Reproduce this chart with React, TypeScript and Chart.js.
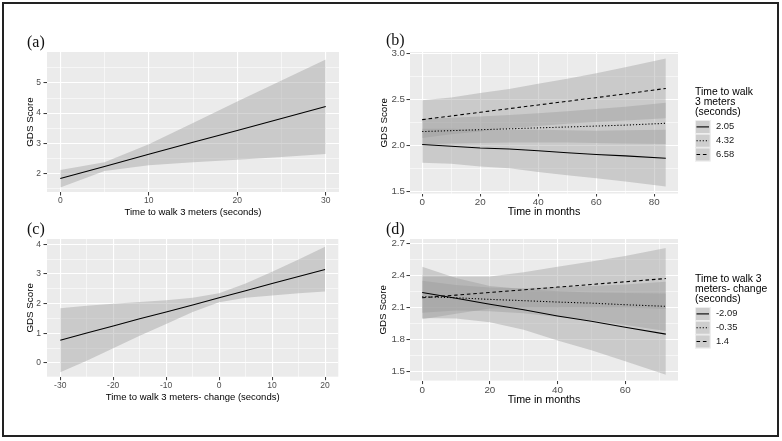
import React, { useEffect, useRef } from "react";
import { Chart, registerables } from "chart.js";
Chart.register(...registerables);

const SANS = '"Liberation Sans", Arial, Helvetica, sans-serif';
const SERIF = '"Liberation Serif", "Times New Roman", Times, serif';
const BAND_FILL = "rgba(153,153,153,0.4)";
const PANEL_BG = "#EBEBEB";
const SOLID: number[] = [];
const DOTTED = [1.2, 1.9];
const DASHED = [3.6, 2.8];

// ---------- panel (a): GDS vs time to walk 3 meters
const aTime = [0, 5, 10, 15, 20, 25, 30];
const aFit = [1.83, 2.23, 2.63, 3.03, 3.42, 3.82, 4.22];
const aUpper = [2.11, 2.37, 2.97, 3.67, 4.39, 5.08, 5.78];
const aLower = [1.53, 2.08, 2.27, 2.37, 2.45, 2.54, 2.64];
const aXTicks = [0, 10, 20, 30];
const aXMinor = [5, 15, 25];
const aYTicks = [2, 3, 4, 5];
const aYMinor = [1.5, 2.5, 3.5, 4.5, 5.5];

// ---------- panel (b): GDS over months by time to walk 3 meters
const bMonths = [0, 10, 20, 30, 40, 50, 60, 70, 84];
const bLegend = ["2.05", "4.32", "6.58"];
const bFit205 = [2.01, 1.99, 1.97, 1.96, 1.94, 1.92, 1.9, 1.885, 1.86];
const bUpper205 = [2.18, 2.18, 2.17, 2.17, 2.17, 2.165, 2.16, 2.165, 2.17];
const bLower205 = [1.81, 1.8, 1.77, 1.75, 1.71, 1.675, 1.64, 1.605, 1.55];
const bFit432 = [2.15, 2.16, 2.17, 2.18, 2.19, 2.2, 2.21, 2.22, 2.24];
const bUpper432 = [2.29, 2.3, 2.315, 2.33, 2.35, 2.37, 2.395, 2.42, 2.465];
const bLower432 = [2.01, 2.02, 2.025, 2.03, 2.03, 2.03, 2.025, 2.02, 2.015];
const bFit658 = [2.28, 2.32, 2.36, 2.4, 2.44, 2.48, 2.52, 2.56, 2.62];
const bUpper658 = [2.49, 2.52, 2.57, 2.615, 2.67, 2.725, 2.785, 2.85, 2.945];
const bLower658 = [2.08, 2.12, 2.15, 2.185, 2.21, 2.235, 2.255, 2.27, 2.295];
const bXTicks = [0, 20, 40, 60, 80];
const bXMinor = [10, 30, 50, 70];
const bYTicks = [1.5, 2.0, 2.5, 3.0];
const bYMinor = [1.75, 2.25, 2.75];

// ---------- panel (c): GDS vs change in time to walk 3 meters
const cChange = [-30, -25, -20, -15, -10, -5, 0, 5, 10, 15, 20];
const cFit = [0.77, 1.01, 1.25, 1.49, 1.72, 1.96, 2.2, 2.44, 2.68, 2.92, 3.15];
const cUpper = [1.85, 1.93, 2.0, 2.06, 2.12, 2.2, 2.35, 2.68, 3.08, 3.49, 3.92];
const cLower = [-0.31, 0.08, 0.5, 0.92, 1.32, 1.72, 2.05, 2.2, 2.28, 2.35, 2.41];
const cXTicks = [-30, -20, -10, 0, 10, 20];
const cXMinor = [-25, -15, -5, 5, 15];
const cYTicks = [0, 1, 2, 3, 4];
const cYMinor = [0.5, 1.5, 2.5, 3.5];

// ---------- panel (d): GDS over months by change in time to walk 3 meters
const dMonths = [0, 10, 20, 30, 40, 50, 60, 72];
const dLegend = ["-2.09", "-0.35", "1.4"];
const dFitM209 = [2.24, 2.186, 2.13, 2.077, 2.02, 1.97, 1.915, 1.85];
const dUpperM209 = [2.48, 2.376, 2.3, 2.27, 2.25, 2.24, 2.235, 2.23];
const dLowerM209 = [2.0, 1.996, 1.96, 1.89, 1.79, 1.7, 1.595, 1.47];
const dFitM035 = [2.2, 2.19, 2.175, 2.163, 2.15, 2.14, 2.125, 2.11];
const dUpperM035 = [2.35, 2.31, 2.285, 2.28, 2.29, 2.3, 2.315, 2.34];
const dLowerM035 = [2.05, 2.07, 2.065, 2.046, 2.01, 1.98, 1.935, 1.88];
const dFit14 = [2.19, 2.215, 2.24, 2.265, 2.29, 2.315, 2.34, 2.37];
const dUpper14 = [2.39, 2.39, 2.39, 2.43, 2.48, 2.53, 2.58, 2.655];
const dLower14 = [1.99, 2.04, 2.09, 2.1, 2.1, 2.1, 2.1, 2.085];
const dXTicks = [0, 20, 40, 60];
const dXMinor = [10, 30, 50, 70];
const dYTicks = [1.5, 1.8, 2.1, 2.4, 2.7];
const dYMinor = [1.65, 1.95, 2.25, 2.55];

type Series = { label: string; x: number[]; fit: number[]; upper: number[]; lower: number[]; dash: number[] };

const near = (arr: number[], v: number) => arr.some((a) => Math.abs(a - v) < 1e-9);

const panels: any[] = [
  {
    id: "a",
    canvas: { left: 12, top: 42, width: 338, height: 180 },
    area: { L: 47, T: 52, R: 339, B: 192 },
    x: { min: -1.5, max: 31.5, ticks: aXTicks, minor: aXMinor, dec: 0, title: "Time to walk 3 meters (seconds)", titleSize: 9.5, titlePad: 4.3, tickSize: 8.5, tickLen: 3.5, tickPad: 1 },
    y: { min: 1.38, max: 6.03, ticks: aYTicks, minor: aYMinor, dec: 0, title: "GDS Score", titleSize: 9.8, titlePad: 12.1, tickSize: 8.5, tickLen: 3.5, tickPad: 2.5 },
    series: [{ label: "fit", x: aTime, fit: aFit, upper: aUpper, lower: aLower, dash: SOLID }],
  },
  {
    id: "b",
    canvas: { left: 370, top: 42, width: 405, height: 180 },
    area: { L: 410, T: 52, R: 678, B: 193.5 },
    x: { min: -4.2, max: 88.2, ticks: bXTicks, minor: bXMinor, dec: 0, title: "Time in months", titleSize: 10.7, titlePad: 3.6, tickSize: 9.8, tickLen: 3, tickPad: 0.5 },
    y: { min: 1.475, max: 3.017, ticks: bYTicks, minor: bYMinor, dec: 1, title: "GDS Score", titleSize: 9.8, titlePad: 8.1, tickSize: 9.8, tickLen: 3.5, tickPad: 1.5 },
    series: [
      { label: bLegend[0], x: bMonths, fit: bFit205, upper: bUpper205, lower: bLower205, dash: SOLID },
      { label: bLegend[1], x: bMonths, fit: bFit432, upper: bUpper432, lower: bLower432, dash: DOTTED },
      { label: bLegend[2], x: bMonths, fit: bFit658, upper: bUpper658, lower: bLower658, dash: DASHED },
    ],
    legend: ["Time to walk", "3 meters", "(seconds)"],
  },
  {
    id: "c",
    canvas: { left: 12, top: 229.3, width: 338, height: 180 },
    area: { L: 47, T: 239.3, R: 338.3, B: 377 },
    x: { min: -32.5, max: 22.5, ticks: cXTicks, minor: cXMinor, dec: 0, title: "Time to walk 3 meters- change (seconds)", titleSize: 9.5, titlePad: 6.1, tickSize: 8.5, tickLen: 3.5, tickPad: 1 },
    y: { min: -0.46, max: 4.18, ticks: cYTicks, minor: cYMinor, dec: 0, title: "GDS Score", titleSize: 9.8, titlePad: 12.1, tickSize: 8.5, tickLen: 3.5, tickPad: 2.5 },
    series: [{ label: "fit", x: cChange, fit: cFit, upper: cUpper, lower: cLower, dash: SOLID }],
  },
  {
    id: "d",
    canvas: { left: 370, top: 228.7, width: 405, height: 180 },
    area: { L: 410, T: 238.7, R: 678, B: 380.3 },
    x: { min: -3.6, max: 75.6, ticks: dXTicks, minor: dXMinor, dec: 0, title: "Time in months", titleSize: 10.7, titlePad: 2.3, tickSize: 9.8, tickLen: 3.5, tickPad: 1.2 },
    y: { min: 1.415, max: 2.74, ticks: dYTicks, minor: dYMinor, dec: 1, title: "GDS Score", titleSize: 9.8, titlePad: 7.1, tickSize: 9.8, tickLen: 3.5, tickPad: 1.5 },
    series: [
      { label: dLegend[0], x: dMonths, fit: dFitM209, upper: dUpperM209, lower: dLowerM209, dash: SOLID },
      { label: dLegend[1], x: dMonths, fit: dFitM035, upper: dUpperM035, lower: dLowerM035, dash: DOTTED },
      { label: dLegend[2], x: dMonths, fit: dFit14, upper: dUpper14, lower: dLower14, dash: DASHED },
    ],
    legend: ["Time to walk 3", "meters- change", "(seconds)"],
  },
];

const panelLabels = [
  { text: "(a)", left: 27, cy: 42 },
  { text: "(b)", left: 386, cy: 40 },
  { text: "(c)", left: 27, cy: 229 },
  { text: "(d)", left: 386, cy: 229 },
];

function axisOptions(ax: any, horizontal: boolean, fixedSize: number) {
  const all = [...ax.ticks, ...ax.minor].sort((p: number, q: number) => p - q);
  return {
    type: "linear",
    position: horizontal ? "bottom" : "left",
    min: ax.min,
    max: ax.max,
    afterBuildTicks: (scale: any) => {
      scale.ticks = all.map((v: number) => ({ value: v }));
    },
    afterFit: (scale: any) => {
      if (horizontal) scale.height = fixedSize;
      else scale.width = fixedSize;
    },
    ticks: {
      autoSkip: false,
      maxRotation: 0,
      minRotation: 0,
      padding: ax.tickPad,
      color: "#4D4D4D",
      font: { family: SANS, size: ax.tickSize, lineHeight: 1 },
      callback: (v: any) => (near(ax.ticks, Number(v)) ? Number(v).toFixed(ax.dec) : ""),
    },
    grid: {
      color: "#FFFFFF",
      lineWidth: (c: any) => (c.tick && near(ax.ticks, c.tick.value) ? 1.1 : 0.55),
      drawTicks: true,
      tickLength: ax.tickLen,
      tickWidth: 1,
      tickColor: (c: any) => (c.tick && near(ax.ticks, c.tick.value) ? "#333333" : "rgba(0,0,0,0)"),
    },
    border: { display: false },
    title: {
      display: true,
      text: ax.title,
      color: "#000000",
      font: { family: SANS, size: ax.titleSize },
      padding: horizontal ? { top: 0, bottom: ax.titlePad } : { top: ax.titlePad, bottom: 0 },
    },
  };
}

const bgPlugin = {
  id: "panelBg",
  beforeDraw(chart: any) {
    const { ctx, chartArea } = chart;
    if (!chartArea) return;
    ctx.save();
    ctx.fillStyle = PANEL_BG;
    ctx.fillRect(chartArea.left, chartArea.top, chartArea.right - chartArea.left, chartArea.bottom - chartArea.top);
    ctx.restore();
  },
};

function legendPlugin(title: string[], series: Series[]) {
  return {
    id: "ggLegend",
    afterDraw(chart: any) {
      const { ctx, chartArea } = chart;
      const x0 = chartArea.right + 17;
      ctx.save();
      ctx.fillStyle = "#000";
      ctx.textAlign = "left";
      ctx.textBaseline = "middle";
      ctx.font = `10.4px ${SANS}`;
      title.forEach((t, i) => ctx.fillText(t, x0, chartArea.top + 40 + i * 10.3));
      const keyTop = chartArea.top + 68;
      const kh = 13.8;
      const kw = 15.5;
      series.forEach((s, i) => {
        const y = keyTop + i * kh;
        ctx.fillStyle = "#F2F2F2";
        ctx.fillRect(x0, y, kw, kh);
        ctx.fillStyle = BAND_FILL;
        ctx.fillRect(x0, y, kw, kh);
        ctx.strokeStyle = "rgba(255,255,255,0.8)";
        ctx.lineWidth = 0.8;
        ctx.strokeRect(x0 + 0.4, y + 0.4, kw - 0.8, kh - 0.8);
        ctx.beginPath();
        ctx.setLineDash(s.dash);
        ctx.strokeStyle = "#000";
        ctx.lineWidth = 1.1;
        ctx.moveTo(x0 + 1.5, y + kh / 2);
        ctx.lineTo(x0 + kw - 1.5, y + kh / 2);
        ctx.stroke();
        ctx.setLineDash([]);
        ctx.fillStyle = "#1a1a1a";
        ctx.font = `9.4px ${SANS}`;
        ctx.fillText(s.label, x0 + kw + 5.5, y + kh / 2);
      });
      ctx.restore();
    },
  };
}

function Panel({ spec }: { spec: any }) {
  const ref = useRef<HTMLCanvasElement | null>(null);
  useEffect(() => {
    const cv = ref.current;
    if (!cv) return;
    const { canvas, area } = spec;
    const series: Series[] = spec.series;
    const datasets: any[] = [];
    series.forEach((s) => {
      datasets.push({
        label: s.label,
        data: s.x.map((x, i) => ({ x, y: s.fit[i] })),
        borderColor: "#000000",
        borderWidth: 1.05,
        borderDash: s.dash,
        borderCapStyle: "butt",
        pointRadius: 0,
        fill: false,
        tension: 0,
      });
    });
    series.forEach((s) => {
      datasets.push({
        label: s.label + " upper",
        data: s.x.map((x, i) => ({ x, y: s.upper[i] })),
        borderColor: "rgba(0,0,0,0)",
        borderWidth: 1,
        pointRadius: 0,
        fill: "+1",
        backgroundColor: BAND_FILL,
        tension: 0,
      });
      datasets.push({
        label: s.label + " lower",
        data: s.x.map((x, i) => ({ x, y: s.lower[i] })),
        borderColor: "rgba(0,0,0,0)",
        borderWidth: 1,
        pointRadius: 0,
        fill: false,
        tension: 0,
      });
    });
    const plugins: any[] = [bgPlugin];
    if (spec.legend) plugins.push(legendPlugin(spec.legend, series));
    const chart = new Chart(cv, {
      type: "line",
      data: { datasets },
      options: {
        responsive: false,
        animation: false,
        devicePixelRatio: 1,
        layout: {
          padding: {
            left: 0,
            top: area.T - canvas.top,
            right: canvas.left + canvas.width - area.R,
            bottom: 0,
          },
        },
        plugins: { legend: { display: false }, tooltip: { enabled: false } },
        scales: {
          x: axisOptions(spec.x, true, canvas.top + canvas.height - area.B),
          y: axisOptions(spec.y, false, area.L - canvas.left),
        },
      } as any,
      plugins,
    });
    return () => chart.destroy();
  }, [spec]);
  const c = spec.canvas;
  return (
    <canvas
      ref={ref}
      width={c.width}
      height={c.height}
      style={{ position: "absolute", left: c.left, top: c.top, width: c.width, height: c.height }}
    />
  );
}

export default function App() {
  return (
    <div
      style={{
        position: "fixed",
        left: 0,
        top: 0,
        width: 782,
        height: 441,
        background: "#ffffff",
        overflow: "hidden",
      }}
    >
      <div
        style={{
          position: "absolute",
          left: 2,
          top: 2,
          width: 777,
          height: 435,
          border: "2px solid #222",
          boxSizing: "border-box",
        }}
      />
      {panels.map((p) => (
        <Panel key={p.id} spec={p} />
      ))}
      {panelLabels.map((l) => (
        <div
          key={l.text}
          style={{
            position: "absolute",
            left: l.left,
            top: l.cy - 9,
            fontFamily: SERIF,
            fontSize: 16,
            lineHeight: "18px",
            color: "#111",
            whiteSpace: "nowrap",
          }}
        >
          {l.text}
        </div>
      ))}
    </div>
  );
}
